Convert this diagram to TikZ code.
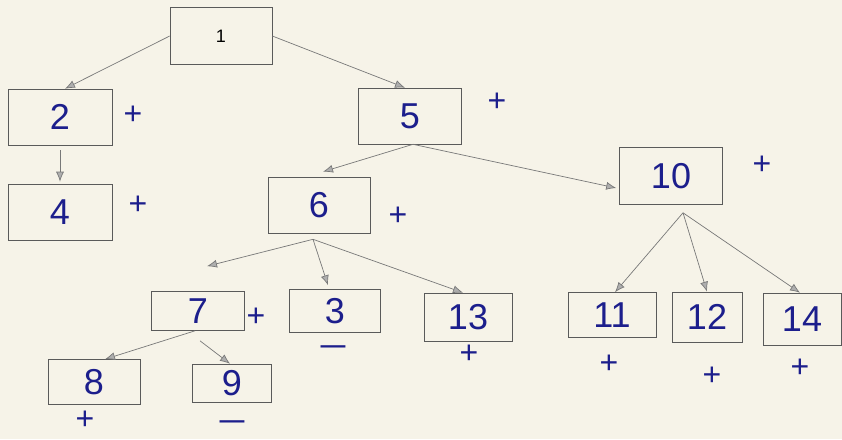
\documentclass[tikz,border=0pt]{standalone}
\usepackage{fontspec}
\usepackage{graphicx}
\setmainfont{Liberation Sans}
\usetikzlibrary{arrows.meta}
\definecolor{paper}{RGB}{246,243,232}
\definecolor{ink}{RGB}{28,30,140}
\definecolor{boxline}{RGB}{90,90,90}
\definecolor{arrowgray}{RGB}{120,120,120}
\begin{document}
\begin{tikzpicture}[x=1pt,y=-1pt,
  box/.style={draw=boxline,line width=0.6pt,inner sep=0pt,text=ink,font=\fontsize{36}{36}\selectfont},
  sign/.style={text=ink,inner sep=0pt,font=\fontsize{32}{32}\selectfont},
  arr/.style={draw=arrowgray,line width=0.7pt,-{Latex[length=10pt,width=8pt,fill=arrowgray!60]}}]
\fill[paper] (0,0) rectangle (842,439);
\useasboundingbox (0,0) rectangle (842,439);
% boxes
\node[box,minimum width=102pt,minimum height=57pt,text=black,font=\fontsize{18}{18}\selectfont] (n1) at (221,36) {1};
\node[box,minimum width=104pt,minimum height=56pt] (n2) at (60,117) {2};
\node[box,minimum width=104pt,minimum height=56pt] (n4) at (60,212) {4};
\node[box,minimum width=103pt,minimum height=56pt] (n5) at (410,116) {5};
\node[box,minimum width=102pt,minimum height=56pt] (n6) at (319,205) {6};
\node[box,minimum width=103pt,minimum height=57pt] (n10) at (671,176) {10};
\node[box,minimum width=93pt,minimum height=39pt] (n7) at (198,311) {7};
\node[box,minimum width=91pt,minimum height=43pt] (n3) at (335,311) {3};
\node[box,minimum width=88pt,minimum height=48pt] (n13) at (468,317) {13};
\node[box,minimum width=92pt,minimum height=45pt] (n8) at (94,382) {8};
\node[box,minimum width=79pt,minimum height=38pt] (n9) at (232,383) {9};
\node[box,minimum width=88pt,minimum height=45pt] (n11) at (612,315) {11};
\node[box,minimum width=70pt,minimum height=50pt] (n12) at (707,317) {12};
\node[box,minimum width=78pt,minimum height=52pt] (n14) at (802,319) {14};
% signs
\node[sign] (p2) at (133,115) {+};
\node[sign] (p4) at (138,205) {+};
\node[sign] (p5) at (497,102) {+};
\node[sign] (p6) at (398,216) {+};
\node[sign] (p10) at (762,165) {+};
\node[sign] (p7) at (256,317) {+};
\node[sign] (m3) at (333,352) {\scalebox{1.6}[1]{−}};
\node[sign] (p13) at (469,354) {+};
\node[sign] (p8) at (85,420) {+};
\node[sign] (m9) at (232,427) {\scalebox{1.6}[1]{−}};
\node[sign] (p11) at (609,364) {+};
\node[sign] (p12) at (712,376) {+};
\node[sign] (p14) at (800,368) {+};
% branch points
\coordinate (c5) at ([xshift=3pt]n5.south);
\coordinate (c6) at ([xshift=-6pt,yshift=-6pt]n6.south);
\coordinate (c10) at ([xshift=12pt,yshift=-8pt]n10.south);
% connectors
\draw[arr] (n1.west) -- ([xshift=5pt]n2.north);
\draw[arr] (n1.east) -- ([xshift=-5pt]n5.north);
\draw[arr,shorten <=5pt,shorten >=2pt] (n2.south) -- (n4.north);
\draw[arr] (c5) -- ([xshift=4pt,yshift=5pt]n6.north);
\draw[arr] (c5) -- ([xshift=-3pt,yshift=-12pt]n10.west);
\draw[arr] (c6) -- ([xshift=9pt,yshift=25pt]n7.north);
\draw[arr] (c6) -- ([xshift=-7pt,yshift=4pt]n3.north);
\draw[arr] (c6) -- ([xshift=-5pt]n13.north);
\draw[arr] ([xshift=-3pt]n7.south) -- ([xshift=11pt]n8.north);
\draw[arr] ([xshift=2pt,yshift=-10pt]n7.south) -- ([xshift=-2pt]n9.north);
\draw[arr] (c10) -- ([xshift=3pt]n11.north);
\draw[arr] (c10) -- (n12.north);
\draw[arr] (c10) -- ([xshift=-2pt]n14.north);
\end{tikzpicture}
\end{document}
